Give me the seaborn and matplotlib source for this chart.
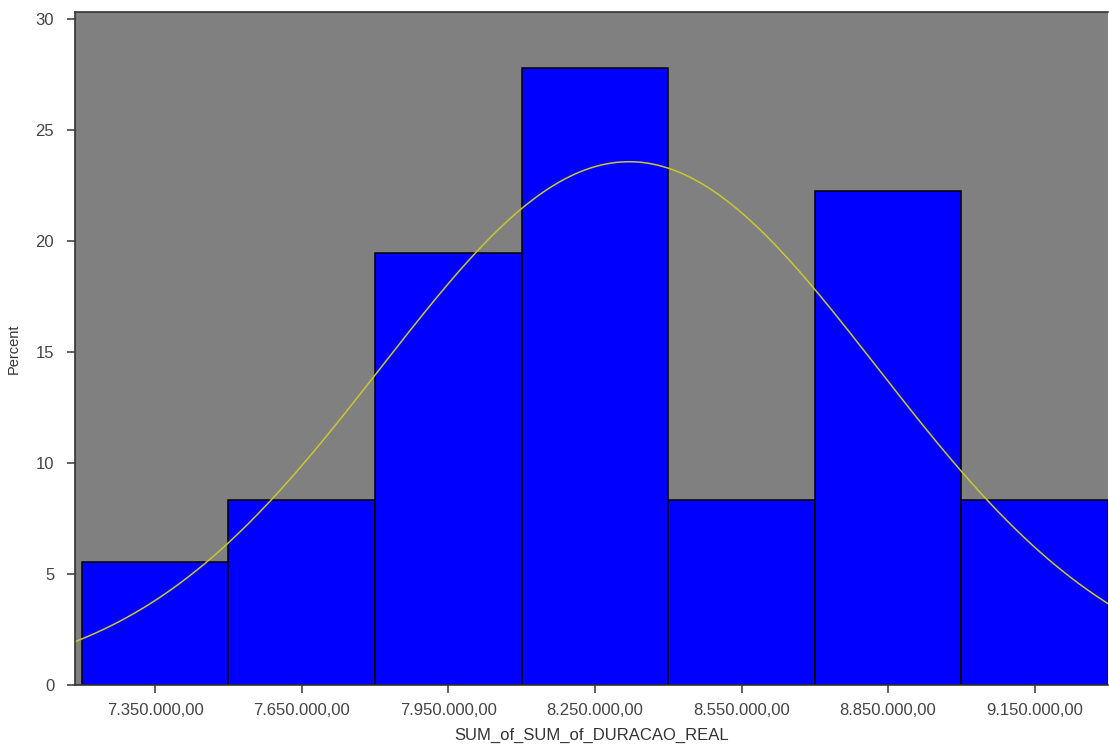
import numpy as np
import pandas as pd
import matplotlib
matplotlib.use("Agg")
import matplotlib.pyplot as plt
import seaborn as sns

# ---- data ----
bin_centers = [7350000, 7650000, 7950000, 8250000, 8550000, 8850000, 9150000]
percents = [5.56, 8.33, 19.44, 27.78, 8.33, 22.22, 8.33]
bin_width = 300000
tick_values = [7350000, 7650000, 7950000, 8250000, 8550000, 8850000, 9150000]
y_ticks = [0, 5, 10, 15, 20, 25, 30]
# fitted normal curve parameters
fit_mean = 8320000
fit_sigma = 508000

sns.set_theme(style="white")
plt.rcParams['font.family'] = ['Liberation Sans', 'DejaVu Sans']

fig = plt.figure(figsize=(11.09, 7.44), dpi=100)
ax = fig.add_axes([75 / 1109, (744 - 685) / 744, (1108 - 75) / 1109, (685 - 12) / 744])
ax.set_facecolor('#808080')

edges = [bin_centers[0] - bin_width / 2] + [c + bin_width / 2 for c in bin_centers]
df = pd.DataFrame({"x": bin_centers, "w": percents})
sns.histplot(data=df, x="x", weights="w", bins=edges, stat="count",
             color="#0000ff", alpha=1.0, edgecolor="#000000", linewidth=1.1, ax=ax)

xlo, xhi = 7186000, 9300000
xs = np.linspace(xlo, xhi, 400)
pdf = 100 * bin_width / (fit_sigma * np.sqrt(2 * np.pi)) * np.exp(-0.5 * ((xs - fit_mean) / fit_sigma) ** 2)
sns.lineplot(x=xs, y=pdf, color="#c8c832", linewidth=1.1, ax=ax)

ax.set_xlim(xlo, xhi)
ax.set_ylim(0, 30.3)
ax.set_xticks(tick_values)
ax.set_xticklabels([f"{v:,.2f}".replace(",", "X").replace(".", ",").replace("X", ".") for v in tick_values])
ax.set_yticks(y_ticks)

ax.tick_params(axis='both', which='major', direction='out', length=6, width=1.3,
               color='#555555', labelcolor='#444444', labelsize=12,
               bottom=True, left=True, top=False, right=False)
ax.tick_params(axis='x', pad=7)
ax.tick_params(axis='y', pad=9)
ax.set_xlabel("SUM_of_SUM_of_DURACAO_REAL", fontsize=12, color='#333333', labelpad=7)
ax.set_ylabel("Percent", fontsize=10.5, color='#333333', labelpad=11)

for s in ['left', 'bottom', 'top']:
    ax.spines[s].set_visible(True)
    ax.spines[s].set_color('#333333')
    ax.spines[s].set_linewidth(1.2)
ax.spines['right'].set_visible(False)

fig.savefig("out.png", dpi=100)
